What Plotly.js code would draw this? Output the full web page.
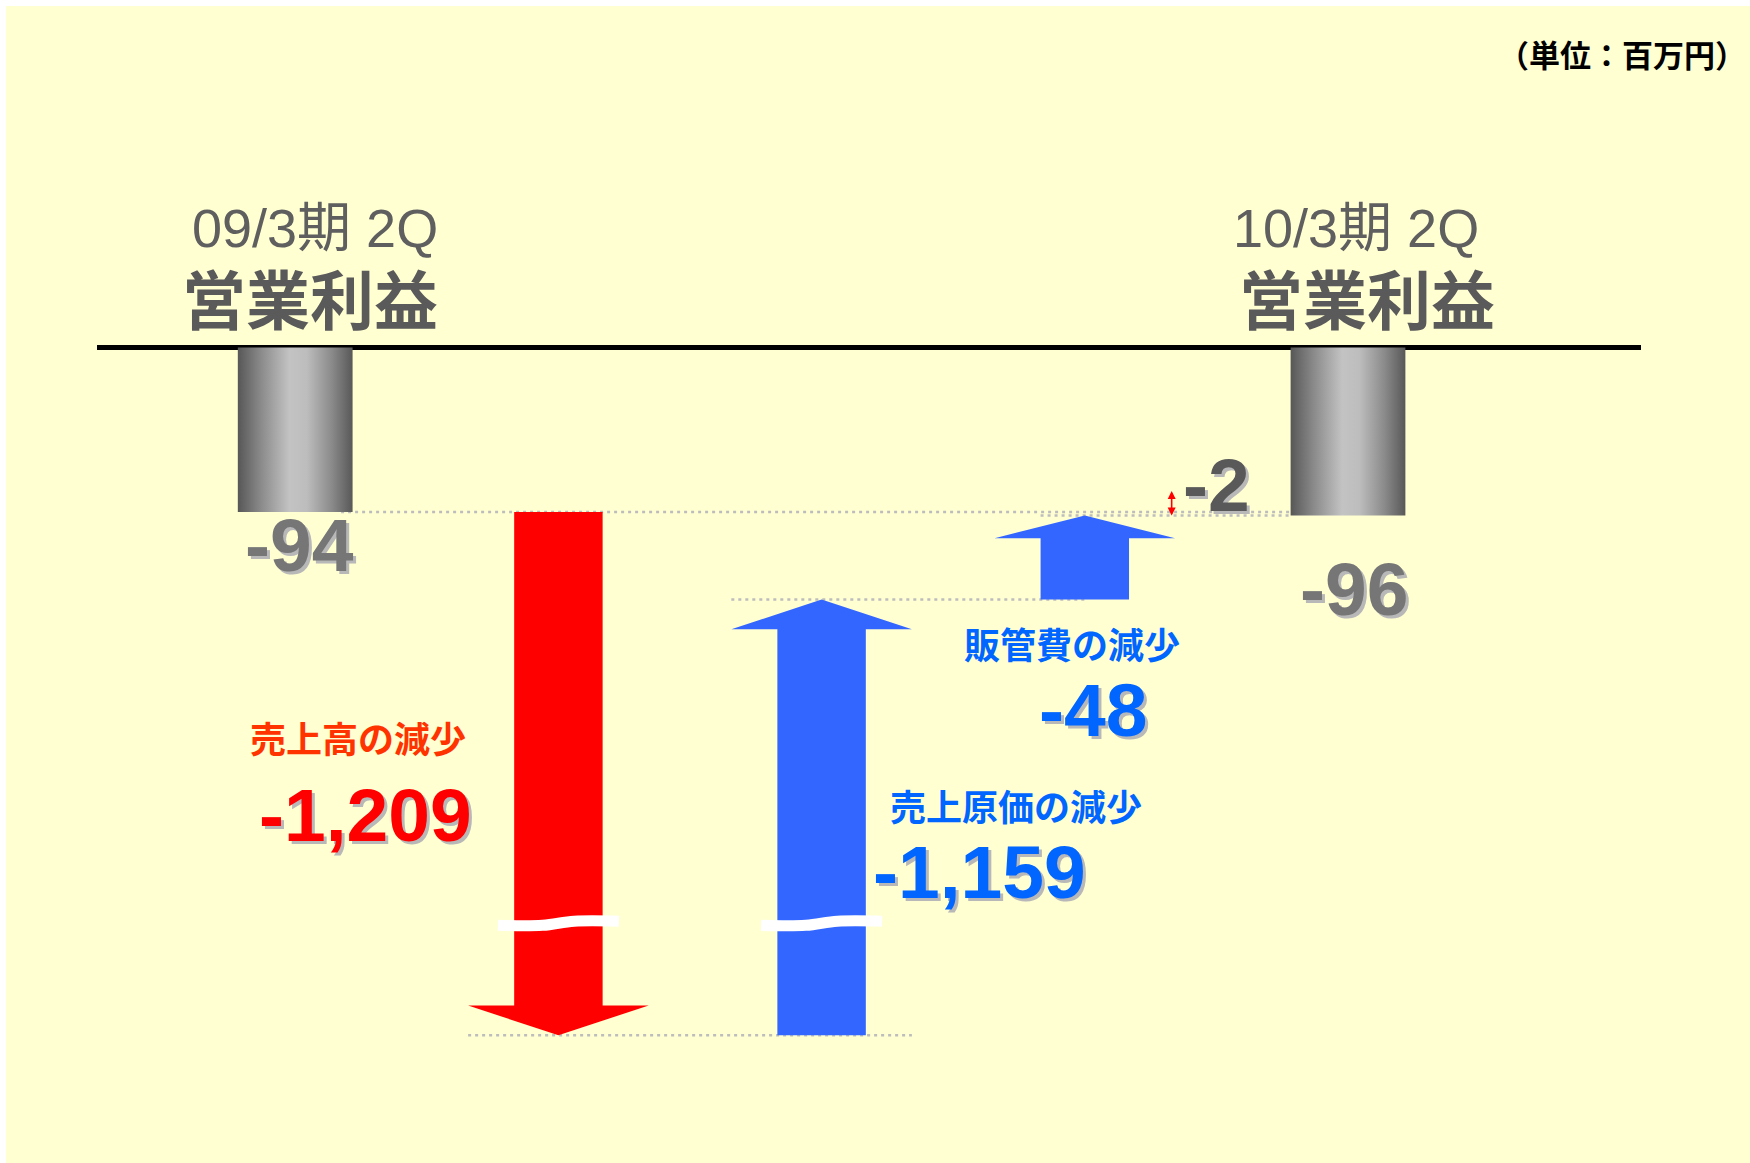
<!DOCTYPE html>
<html><head><meta charset="utf-8">
<script src="https://cdn.plot.ly/plotly-3.0.1.min.js"></script>
<style>html,body{margin:0;padding:0;background:#fff}</style>
</head><body><div id="chart" style="width:1750px;height:1163px"></div>
<script>
// ---------------- data ----------------
const categories = ['09/3期 2Q 営業利益', '売上高の減少', '売上原価の減少', '販管費の減少', '10/3期 2Q 営業利益'];
const periodLabels = ['09/3期 2Q', '10/3期 2Q'];
const metricLabel = '営業利益';
const unitLabel = '（単位：百万円）';
const startProfit = -94;
const endProfit = -96;
const changeNames = ['売上高の減少', '売上原価の減少', '販管費の減少'];
const changeAmounts = [-1209, -1159, -48];     // printed decreases
const profitEffectSign = [1, -1, -1];          // lower costs raise profit

// ---------------- derived ----------------
const effects = changeAmounts.map((a, k) => a * profitEffectSign[k]);
const levels = [startProfit];
effects.forEach(e => levels.push(levels[levels.length - 1] + e));
const fmt = v => (v < 0 ? '-' : '') + Math.abs(v).toLocaleString('en-US');

// axis break (broken arrows)
const BREAK_AT = -329, BREAK_HIDDEN = 910;
const disp = v => (v < BREAK_AT ? v + BREAK_HIDDEN : v);

// pixel geometry helpers (plot area: left 6, top 6)
const PX0 = 295.2, PXU = 263.2, PY0 = 347.5, PYU = 1.75;
const dY = py => (PY0 - py) / PYU;
const colPx = i => PX0 + PXU * i;

// styles
const BAR_HALF = 0.218, SHAFT_HALF = 0.168, HEAD_HALF = 0.343;
const HEAD_LEN = [17, 17, 13];
const RED = '#FF0000', BLUE = '#3366FF';
const GRAD = [[0, '#575757'], [0.2, '#8a8a8a'], [0.45, '#c3c3c3'], [0.6, '#bdbdbd'], [0.82, '#8a8a8a'], [1, '#585858']];

const traces = [];
const base = {type: 'scatter', hoverinfo: 'skip', showlegend: false};

function hline(level, x0, x1) {
  traces.push(Object.assign({}, base, {mode: 'lines', x: [x0, x1], y: [disp(level), disp(level)],
    line: {color: '#BDBDBD', width: 2.6, dash: '3px,4px'}}));
}
hline(levels[0], 0 + BAR_HALF * 0.8, 4 - BAR_HALF);
hline(endProfit, 3 - SHAFT_HALF, 4 - BAR_HALF);
hline(levels[2], 2 - HEAD_HALF, 3);
hline(levels[1], 1 - HEAD_HALF, 2 + HEAD_HALF);

// gray profit bars
[[0, startProfit], [4, endProfit]].forEach(([i, v]) => {
  traces.push(Object.assign({}, base, {mode: 'lines', fill: 'toself',
    x: [i - BAR_HALF, i + BAR_HALF, i + BAR_HALF, i - BAR_HALF, i - BAR_HALF],
    y: [0, 0, disp(v), disp(v), 0],
    line: {width: 0, color: 'rgba(0,0,0,0)'},
    fillcolor: '#999999',
    fillgradient: {type: 'horizontal', colorscale: GRAD}}));
});

// change arrows
effects.forEach((e, k) => {
  const i = k + 1;
  const from = disp(levels[k]), to = disp(levels[k + 1]);
  const dir = to < from ? -1 : 1;
  const hb = to - dir * HEAD_LEN[k];
  traces.push(Object.assign({}, base, {mode: 'lines', fill: 'toself',
    x: [i - SHAFT_HALF, i + SHAFT_HALF, i + SHAFT_HALF, i + HEAD_HALF, i, i - HEAD_HALF, i - SHAFT_HALF, i - SHAFT_HALF],
    y: [from, from, hb, hb, to, hb, hb, from],
    line: {width: 0, color: 'rgba(0,0,0,0)'},
    fillcolor: e < 0 ? RED : BLUE}));
  // break mark
  const lo = Math.min(levels[k], levels[k + 1]), hi = Math.max(levels[k], levels[k + 1]);
  if (lo < BREAK_AT && hi > BREAK_AT) {
    const w = 0.23;
    traces.push(Object.assign({}, base, {mode: 'lines',
      x: [i - w, i - 0.06, i + 0.06, i + w],
      y: [BREAK_AT - 1.2, BREAK_AT - 1.2, BREAK_AT + 1.2, BREAK_AT + 1.2],
      line: {color: '#FFFFFF', width: 11, shape: 'spline'}}));
  }
});

// ---------------- annotations ----------------
const annotations = [];
const NUMF = 'Liberation Sans, Arial, sans-serif';
const CJKF = 'Noto Sans CJK JP, sans-serif';
function txt(text, x, xshift, py, font, shadow) {
  if (shadow) {
    annotations.push({text, x, y: dY(py), xref: 'x', yref: 'y', xshift: xshift + 3, yshift: -3,
      showarrow: false, xanchor: 'center', yanchor: 'middle',
      font: Object.assign({}, font, {color: shadow})});
  }
  annotations.push({text, x, y: dY(py), xref: 'x', yref: 'y', xshift,
    showarrow: false, xanchor: 'center', yanchor: 'middle', font});
}
const GRAYT = '#5F5F5F';
txt(periodLabels[0], 0, 20, 228, {family: 'Liberation Sans, Noto Sans CJK JP, sans-serif', size: 54, color: GRAYT});
txt(periodLabels[1], 4, 8, 228, {family: 'Liberation Sans, Noto Sans CJK JP, sans-serif', size: 54, color: GRAYT});
txt(metricLabel, 0, 15, 296, {family: CJKF, size: 64, color: '#5A5A5A', weight: 700});
txt(metricLabel, 4, 19, 296, {family: CJKF, size: 64, color: '#5A5A5A', weight: 700});

const numFont = c => ({family: NUMF, size: 75, color: c, weight: 700});
const SH = '#B8B8B8';
txt(fmt(startProfit), 0, 4, 545, numFont('#767676'), SH);
txt(fmt(endProfit), 4, 6, 589, numFont('#767676'), SH);
txt(fmt(endProfit - startProfit), 3.5, 0, 485, numFont('#595959'), SH);

const labelColors = ['#FF3300', '#0066FF', '#0066FF'];
const numColors = ['#FF0000', '#0066FF', '#0066FF'];
// text centres (pixels) for each change label / amount
const labelPos = [[358, 737], [1016, 805], [1072, 643]];
const numPos = [[365, 815], [979, 872], [1093, 710]];
changeNames.forEach((n, k) => {
  const i = k + 1;
  txt(n, i, labelPos[k][0] - colPx(i), labelPos[k][1], {family: CJKF, size: 36, color: labelColors[k], weight: 700});
  txt(fmt(changeAmounts[k]), i, numPos[k][0] - colPx(i), numPos[k][1], numFont(numColors[k]), SH);
});

// unit label
annotations.push({text: unitLabel, xref: 'paper', yref: 'paper', x: (1748 - 6) / 1744, y: 1 - (54 - 6) / 1157,
  xanchor: 'right', yanchor: 'middle', showarrow: false,
  font: {family: CJKF, size: 31, color: '#000000', weight: 700}});

// -2 double arrow
annotations.push({text: '', x: 3.33, y: disp(endProfit), xref: 'x', yref: 'y', ax: 0, ay: -26,
  showarrow: true, arrowside: 'end+start', arrowhead: 2, arrowsize: 1, arrowwidth: 1.6, arrowcolor: RED});

const layout = {
  width: 1750, height: 1163,
  margin: {l: 6, r: 0, t: 6, b: 0, pad: 0},
  paper_bgcolor: '#FFFFFF', plot_bgcolor: '#FFFFD2',
  xaxis: {range: [(6 - PX0) / PXU, (1750 - PX0) / PXU], visible: false, fixedrange: true},
  yaxis: {range: [dY(1163), dY(6)], visible: false, fixedrange: true},
  showlegend: false,
  shapes: [{type: 'line', xref: 'x', yref: 'y', x0: (97 - PX0) / PXU, x1: (1641 - PX0) / PXU, y0: 0, y1: 0,
    line: {color: '#000000', width: 5}, layer: 'below'}],
  annotations
};
Plotly.newPlot('chart', traces, layout, {staticPlot: true, displayModeBar: false});
</script></body></html>
